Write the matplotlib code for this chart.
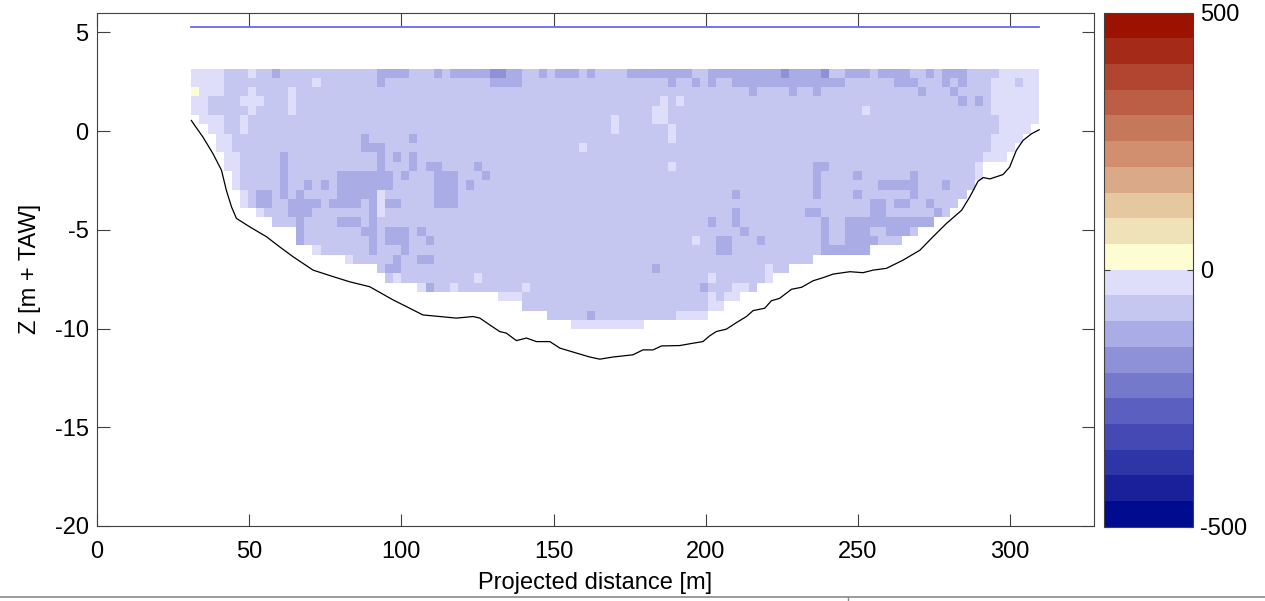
"""
ADCP cross-section: cell values over the projected distance, with bed profile
and water surface. Discrete blue/red colour scale from -500 to 500.
"""

import re
import numpy as np
import matplotlib
matplotlib.use('Agg')
import matplotlib.pyplot as plt
from matplotlib.colors import ListedColormap, BoundaryNorm
from matplotlib.cm import ScalarMappable
from matplotlib.lines import Line2D

plt.rcParams['font.family'] = ['Liberation Sans', 'DejaVu Sans']
plt.rcParams['axes.unicode_minus'] = False

# ── colour scale: 20 bands of 50, from -500 upwards ───────────────────────
levels = list(range(-500, 501, 50))
band_colors = ['#000C8F', '#1A209A', '#2E35A6', '#4449B3', '#5B60C0',
               '#7579CC', '#8E90D8', '#AAACE5', '#C5C7F1', '#DEDEFB',
               '#FEFCD2', '#F0E2B8', '#E6C8A0', '#DAAA88', '#D18F70',
               '#C5785A', '#BC5E45', '#B04530', '#A62A18', '#9B1200']

# ── cell grid (run-length per row, top row first) ─────────────────────────
# w=-25  m=-75  d=-125  D=-175  y=+25  .=no data
class_values = {'w': -25, 'm': -75, 'd': -125, 'D': -175, 'y': 25}
grid_rows = [
    "4w 3m 1w 2m 1d 12m 4d 3m 1d 1m 5d 2D 2d 2m 1d 1m 3d 1m 1d 4m 8d 2m 9d 1D 4d 1D 2m 3d 1m 4d 2m 1d 1m 3d 4m 5w",
    "4w 11m 1w 7m 1d 13m 4d 18m 1d 2m 1d 1m 1d 2m 14d 6m 3d 3m 1d 1m 1d 3m 3w 1m 2w",
    "1y 3w 3m 1w 4m 1w 56m 1d 4m 1d 2m 1d 12m 1d 3m 1d 4m 6w",
    "2w 4m 3w 3m 1w 45m 1w 1m 1w 34m 1d 1m 1d 1m 6w",
    "2w 5m 1w 4m 1w 44m 2w 24m 1w 15m 6w",
    "1. 3w 2m 1w 45m 1w 4m 2w 41m 5w",
    "2. 2w 2m 1w 45m 1w 6m 1w 40m 4w 1.",
    "3. 2w 16m 1d 5m 1d 31m 1w 39m 4w 2.",
    "3. 2w 16m 3d 24m 1w 50m 3w 3.",
    "4. 2w 5m 1d 11m 1d 1m 1d 1m 1d 70m 3w 4.",
    "4. 2w 5m 1d 11m 1d 3m 1d 1m 2d 4m 1d 23m 1w 17m 2d 18m 1w 7.",
    "5. 1w 5m 1d 6m 7d 1m 1d 3m 3d 3m 1d 40m 1d 4m 1d 6m 1d 7m 1w 7.",
    "5. 1w 5m 1d 2m 1d 1m 1d 1m 7d 5m 3d 1m 1d 42m 1d 7m 5d 3m 1d 3m 8.",
    "6. 1w 1m 2d 1m 1d 1m 1d 4m 5d 1w 6m 3d 34m 1d 9m 1d 4m 1d 6m 1d 6m 9.",
    "6. 1w 1m 2d 2m 4d 1m 4d 1m 1d 1w 2d 4m 3d 51m 2d 1m 2d 2m 1d 3m 10.",
    "8. 1w 3m 3d 7m 1d 1w 43m 1d 8m 2d 6m 2d 6m 1d 1m 11.",
    "10. 3m 1d 4m 3d 1m 1d 41m 1d 2m 1d 10m 1d 2m 11d 13.",
    "13. 1d 7m 2d 1m 3d 1m 1d 39m 1d 9m 1d 2m 3d 2m 3d 1m 15.",
    "13. 1d 8m 1d 1m 3d 2m 1d 32m 1w 2m 2d 3m 1d 7m 1d 2m 4d 3m 17.",
    "15. 1w 6m 1d 3m 1d 38m 2d 11m 6d 21.",
    "19. 1w 5m 1d 2m 2d 47m 28.",
    "23. 1m 2d 31m 1d 13m 1w 2m 31.",
    "24. 1m 1w 9m 1w 28m 1w 6m 1w 33.",
    "28. 1w 1d 2m 1w 8m 1w 21m 1d 3m 2w 1m 35.",
    "38. 3w 23m 1w 1m 2w 37.",
    "41. 23m 2w 39.",
    "44. 5m 1d 10m 4w 41.",
    "47. 9w 49.",
]
x_first, x_last = 31.0, 309.6     # m, outer edges of the cell grid
z_top, cell_height = 3.17, 0.4714

water_level = 5.3

# ── bed profile ───────────────────────────────────────────────────────────
bed_x = [31.0, 32.1, 34.8, 38.1, 40.9, 42.5, 44.2, 45.8, 50.2, 55.7, 60.0,
         64.4, 71.0, 77.6, 83.0, 89.6, 97.3, 101.7, 107.1, 112.6, 118.1,
         123.6, 125.8, 129.0, 132.3, 134.5, 137.8, 141.1, 144.4, 148.8,
         152.1, 157.5, 161.9, 165.2, 169.6, 176.1, 179.4, 182.7, 185.5,
         191.5, 195.9, 199.1, 201.3, 203.5, 206.8, 210.1, 213.4, 215.6,
         219.4, 221.6, 224.3, 228.2, 231.5, 235.3, 238.6, 241.9, 247.4,
         251.7, 255.0, 259.4, 264.9, 270.4, 274.7, 279.1, 284.1, 286.8,
         289.5, 291.2, 293.4, 297.7, 299.9, 302.1, 304.3, 307.1, 309.6]
bed_z = [0.54, 0.29, -0.30, -1.14, -1.98, -3.00, -3.84, -4.42, -4.85, -5.35,
         -5.86, -6.36, -7.04, -7.37, -7.63, -7.88, -8.55, -8.89, -9.31, -9.39,
         -9.47, -9.39, -9.47, -9.81, -10.15, -10.23, -10.61, -10.48, -10.66,
         -10.66, -10.99, -11.24, -11.44, -11.55, -11.44, -11.33, -11.08,
         -11.08, -10.88, -10.86, -10.74, -10.66, -10.37, -10.15, -10.03,
         -9.70, -9.39, -9.09, -8.97, -8.59, -8.47, -8.01, -7.91, -7.58, -7.42,
         -7.24, -7.12, -7.17, -7.04, -6.95, -6.53, -6.03, -5.35, -4.68, -4.01,
         -3.33, -2.54, -2.35, -2.42, -2.20, -1.82, -0.97, -0.47, -0.13, 0.07]


def decode(row):
    out = []
    for n, ch in re.findall(r'(\d+)(\S)', row):
        out += [np.nan if ch == '.' else class_values[ch]] * int(n)
    return out


vals = np.array([decode(r) for r in grid_rows], dtype=float)
n_rows, n_cols = vals.shape
assert all(len(decode(r)) == n_cols for r in grid_rows), "ragged grid"

x_edges = np.linspace(x_first, x_last, n_cols + 1)
z_edges = z_top - cell_height * np.arange(n_rows + 1)

cmap = ListedColormap(band_colors)
norm = BoundaryNorm(levels, cmap.N)

# ── figure ────────────────────────────────────────────────────────────────
fig = plt.figure(figsize=(12.65, 6.01), dpi=100)
ax = fig.add_axes([0.0767, 0.1248, 0.7881, 0.8541])
cax = fig.add_axes([0.8730, 0.1236, 0.0699, 0.8553])

ax.pcolormesh(x_edges, z_edges, np.ma.masked_invalid(vals), cmap=cmap,
              norm=norm, shading='flat', antialiased=False, edgecolors='none')
ax.plot(bed_x, bed_z, color='black', lw=0.9)
ax.plot([x_first, x_last], [water_level, water_level], color='#6868EE', lw=1.3)

ax.set_xlim(0, 327.6)
ax.set_ylim(-20, 6)
ax.set_xticks(range(0, 301, 50))
ax.set_yticks(range(-20, 6, 5))
ax.tick_params(direction='in', length=9, top=True, right=True,
               labelsize=17, color='#404040')
ax.tick_params(axis='x', pad=11)
ax.tick_params(axis='y', pad=6)
for s in ax.spines.values():
    s.set_color('#404040')
ax.set_xlabel("Projected distance [m]", fontsize=17, labelpad=6)
ax.set_ylabel("Z [m + TAW]", fontsize=17, labelpad=10)

cb = fig.colorbar(ScalarMappable(norm=norm, cmap=cmap), cax=cax,
                  ticks=[-500, 0, 500], drawedges=False)
cb.outline.set_edgecolor('#404040')
cax.tick_params(direction='in', length=4, left=True, right=True,
                labelsize=17, pad=5, color='#404040')
cax.minorticks_off()

# page border line under the figure
fig.add_artist(Line2D([0, 1], [0.0067, 0.0067], transform=fig.transFigure,
                      color='#8a8a8a', lw=1.2))
fig.add_artist(Line2D([0.670, 0.670], [0.0, 0.0067], transform=fig.transFigure,
                      color='#8a8a8a', lw=1.0))

fig.savefig("out.png", dpi=100)
